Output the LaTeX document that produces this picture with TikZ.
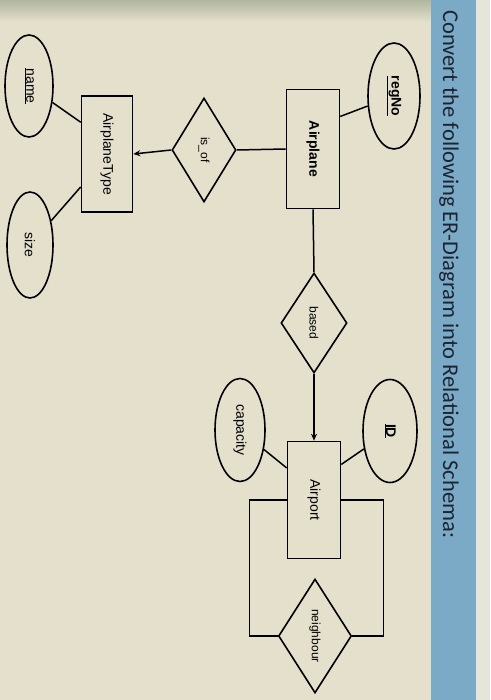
\documentclass[tikz,border=0pt]{standalone}
\usepackage{fontspec}
\setmainfont{Liberation Sans}
\newfontfamily\titlefont{Carlito}
\usetikzlibrary{shapes.geometric,arrows.meta,calc}
\definecolor{paper}{RGB}{228,224,204}
\definecolor{papertop}{RGB}{176,182,160}
\definecolor{band}{RGB}{122,170,198}
\definecolor{edge}{RGB}{230,229,218}
\definecolor{ink}{RGB}{28,36,52}
\begin{document}
\begin{tikzpicture}[x=1pt,y=-1pt,
  ent/.style={draw=black, line width=1.6pt, rectangle, rotate=-90, inner sep=0pt, font=\fontsize{14}{14}\selectfont},
  attr/.style={draw=black, line width=1.6pt, ellipse, rotate=-90, inner sep=0pt, font=\fontsize{14}{14}\selectfont},
  rel/.style={draw=black, line width=1.6pt, diamond, rotate=-90, inner sep=0pt, font=\fontsize{12}{12}\selectfont},
  conn/.style={line width=1.5pt},
  arr/.style={conn, -{Stealth[length=7pt,width=6pt]}}
]
\useasboundingbox (0,0) rectangle (490,700);
% background
\fill[paper] (0,0) rectangle (490,700);
\shade[top color=papertop, bottom color=paper] (0,0) rectangle (432,22);
\fill[edge] (476,0) rectangle (490,700);
\fill[band] (431,0) rectangle (476,700);
% title
\node[rotate=-90, anchor=base west, inner sep=0pt, text=ink,
  font=\titlefont\fontsize{22.5}{22.5}\selectfont] (title) at (443,10)
  {Convert the following ER-Diagram into Relational Schema:};
% entities
\node[ent, minimum width=119pt, minimum height=53pt] (airplane) at (313,149) {\textbf{Airplane}};
\node[ent, minimum width=116pt, minimum height=51pt] (atype) at (107,154) {AirplaneType};
\node[ent, minimum width=117pt, minimum height=53pt] (airport) at (314,500) {Airport};
% attributes
\node[attr, minimum width=106pt, minimum height=52pt] (regno) at (394,96) {\textbf{\underline{regNo}}};
\node[attr, minimum width=102pt, minimum height=48pt] (name) at (29,86) {\underline{name}};
\node[attr, minimum width=106pt, minimum height=46pt] (size) at (30,245) {size};
\node[attr, minimum width=103pt, minimum height=54pt] (id) at (390,431) {\textbf{\underline{ID}}};
\node[attr, minimum width=103pt, minimum height=50pt] (cap) at (240,430) {capacity};
% relationships
\node[rel, minimum width=104pt, minimum height=64pt] (isof) at (204,150) {is\_of};
\node[rel, minimum width=100pt, minimum height=66pt] (based) at (314,323) {based};
\node[rel, minimum width=114pt, minimum height=73pt] (neigh) at (315,636) {neighbour};
% connectors
\draw[conn] (regno) -- ($(airplane.north west)!0.23!(airplane.north east)$);
\draw[conn] (airplane.south) -- (isof.north);
\draw[arr] (isof.south) -- (atype.north);
\draw[conn] (name) -- ($(atype.south west)!0.23!(atype.south east)$);
\draw[conn] (size) -- ($(atype.south west)!0.78!(atype.south east)$);
\draw[conn] (airplane.east) -- (based.west);
\draw[arr] (based.east) -- (airport.west);
\draw[conn] (id) -- ($(airport.north west)!0.2!(airport.north east)$);
\draw[conn] (cap) -- ($(airport.south west)!0.23!(airport.south east)$);
\draw[conn] (airport.south) -- ++(-37,0) |- (neigh.south);
\draw[conn] (airport.north) -- ++(42,0) |- (neigh.north);
\end{tikzpicture}
\end{document}
